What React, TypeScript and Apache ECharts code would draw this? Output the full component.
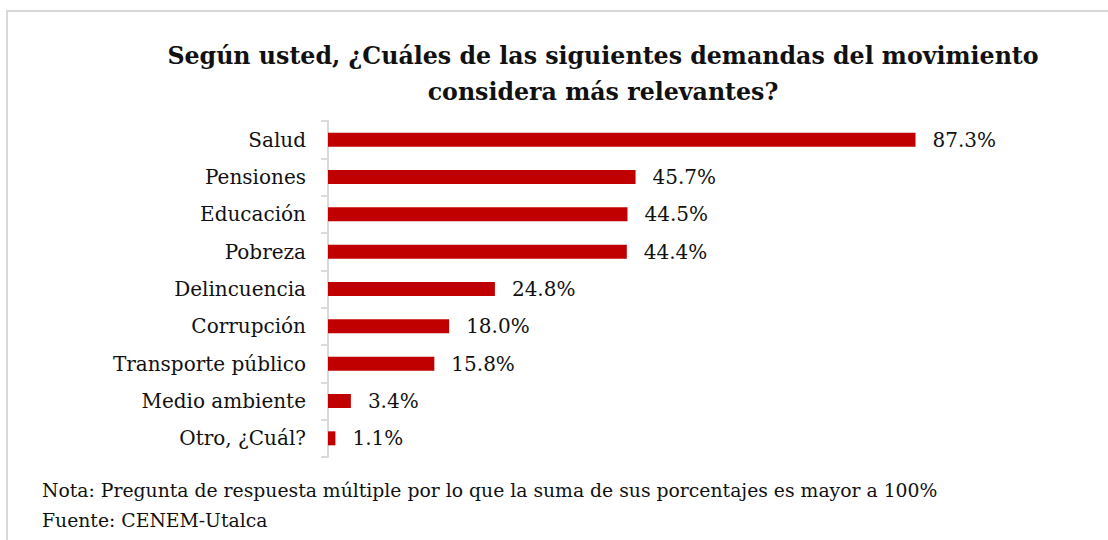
import React, { useEffect, useRef } from "react";
import * as echarts from "echarts";

const categories = [
  "Salud",
  "Pensiones",
  "Educación",
  "Pobreza",
  "Delincuencia",
  "Corrupción",
  "Transporte público",
  "Medio ambiente",
  "Otro, ¿Cuál?",
];
const values = [87.3, 45.7, 44.5, 44.4, 24.8, 18.0, 15.8, 3.4, 1.1];
const titleText = "Según usted, ¿Cuáles de las siguientes demandas del movimiento\nconsidera más relevantes?";
const noteLines = [
  "Nota: Pregunta de respuesta múltiple por lo que la suma de sus porcentajes es mayor a 100%",
  "Fuente: CENEM-Utalca",
];

const FONT = "'DejaVu Serif', 'Liberation Serif', serif";

export default function App() {
  const ref = useRef<HTMLDivElement>(null);
  useEffect(() => {
    document.body.style.margin = "0";
    const chart = echarts.init(ref.current!, null, { renderer: "svg" });
    chart.setOption({
      animation: false,
      backgroundColor: "#ffffff",
      title: {
        text: titleText,
        left: 598,
        textAlign: "center",
        top: 33,
        textStyle: {
          fontFamily: FONT,
          fontWeight: "bold",
          fontSize: 23.7,
          lineHeight: 36,
          color: "#111111",
        },
      },
      grid: { left: 328, top: 121, width: 673, height: 336 },
      xAxis: {
        type: "value",
        min: 0,
        max: 100,
        show: false,
      },
      yAxis: {
        type: "category",
        data: categories,
        inverse: true,
        axisLine: { show: true, lineStyle: { color: "#d9d9d9", width: 2 } },
        axisTick: { show: true, length: 7, lineStyle: { color: "#d9d9d9", width: 2 } },
        axisLabel: {
          margin: 22,
          fontFamily: FONT,
          fontSize: 20,
          color: "#111111",
        },
      },
      series: [
        {
          type: "bar",
          data: values,
          barWidth: 14,
          itemStyle: { color: "#c00000" },
          label: {
            show: true,
            position: "right",
            distance: 17,
            fontFamily: FONT,
            fontSize: 20,
            color: "#111111",
            formatter: (p: any) => p.value.toFixed(1) + "%",
          },
        },
      ],
      graphic: [
        {
          type: "rect",
          shape: { x: 7, y: 11, width: 1200, height: 600 },
          style: { fill: "none", stroke: "#d9d9d9", lineWidth: 2 },
          silent: true,
        },
        {
          type: "text",
          left: 42,
          top: 481,
          style: {
            text: noteLines[0],
            fontFamily: FONT,
            fontSize: 18.8,
            fill: "#111111",
          },
        },
        {
          type: "text",
          left: 42,
          top: 511,
          style: {
            text: noteLines[1],
            fontFamily: FONT,
            fontSize: 18.8,
            fill: "#111111",
          },
        },
      ],
    });
    return () => chart.dispose();
  }, []);
  return (
    <div
      ref={ref}
      style={{ position: "absolute", left: 0, top: 0, width: 1108, height: 540 }}
    />
  );
}
